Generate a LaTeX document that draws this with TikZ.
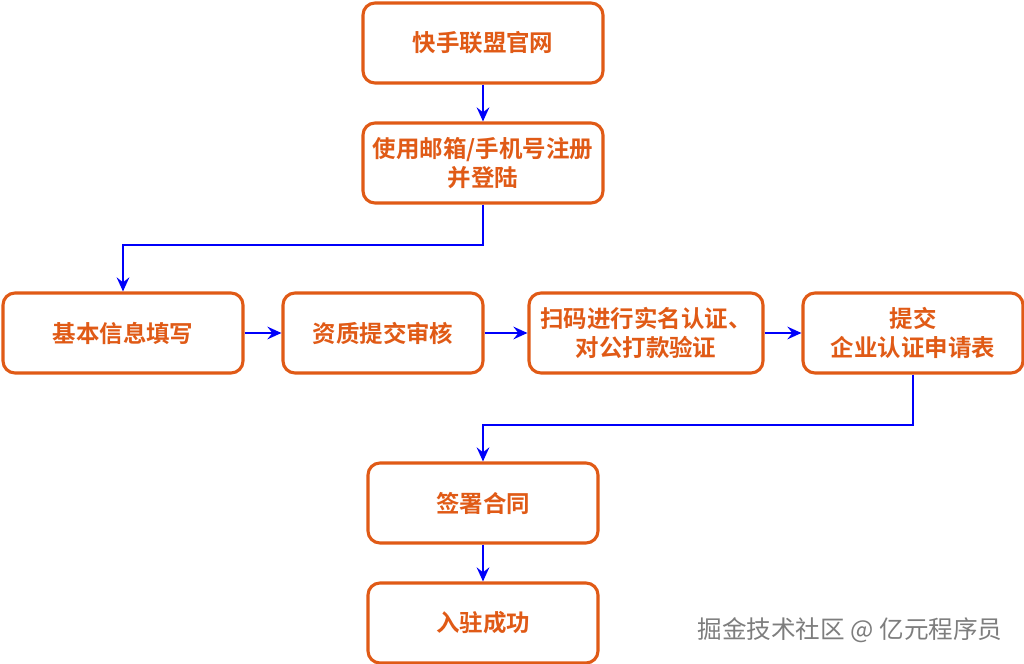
\documentclass[tikz,border=0pt]{standalone}
\usepackage{fontspec}
\usepackage{tikz}
\usetikzlibrary{arrows.meta,positioning}
\usepackage{xcolor}
\newfontfamily\cjk{Noto Sans CJK SC}
\newfontfamily\cjkbold{Noto Sans CJK SC Bold}
\definecolor{ksorange}{RGB}{224,90,22}
\definecolor{ksblue}{RGB}{0,0,250}
\definecolor{ksgray}{RGB}{125,125,125}
\tikzstyle{link} = [line width=1.4pt,-{Stealth[length=10pt,width=9pt,inset=3.5pt]},color=ksblue]

\begin{document}
\begin{tikzpicture}[
    stage/.style={rectangle, rounded corners=0.3cm, draw=ksorange, line width=2.2pt, fill=white, minimum width=6cm, minimum height=2cm, align=center, text=ksorange, font=\cjkbold\fontsize{16.7pt}{21pt}\selectfont},
    credittext/.style={text=ksgray, font=\cjk\fontsize{17.5pt}{21pt}\selectfont}]

\useasboundingbox (0,0) rectangle (25.6,-16.6);

% Registration
\node[stage] (site) at (12.075,-1.075) {快手联盟官网};
\node[stage] (login) at (12.075,-4.075) {使用邮箱/手机号注册\\并登陆};

% Verification row
\node[stage] (info) at (3.075,-8.325) {基本信息填写};
\node[stage, minimum width=5cm] (audit) at (9.575,-8.325) {资质提交审核};
\node[stage, minimum width=5.85cm] (scan) at (16.15,-8.325) {扫码进行实名认证、\\对公打款验证};
\node[stage, minimum width=5.5cm] (form) at (22.825,-8.325) {提交\\企业认证申请表};

% Contract
\node[stage, minimum width=5.75cm] (sign) at (12.075,-12.575) {签署合同};
\node[stage, minimum width=5.75cm] (done) at (12.075,-15.575) {入驻成功};

% Connectors
\draw[link] (site) -- (login);
\draw[link] (login.south) -- ++(0,-1) -| (info.north);
\draw[link] (info) -- (audit);
\draw[link] (audit) -- (scan);
\draw[link] (scan) -- (form);
\draw[link] (form.south) -- ++(0,-1.25) -| (sign.north);
\draw[link] (sign) -- (done);

% Watermark
\node[credittext] (credit) at (21.25,-15.75) {掘金技术社区 @ 亿元程序员};

\end{tikzpicture}
\end{document}
